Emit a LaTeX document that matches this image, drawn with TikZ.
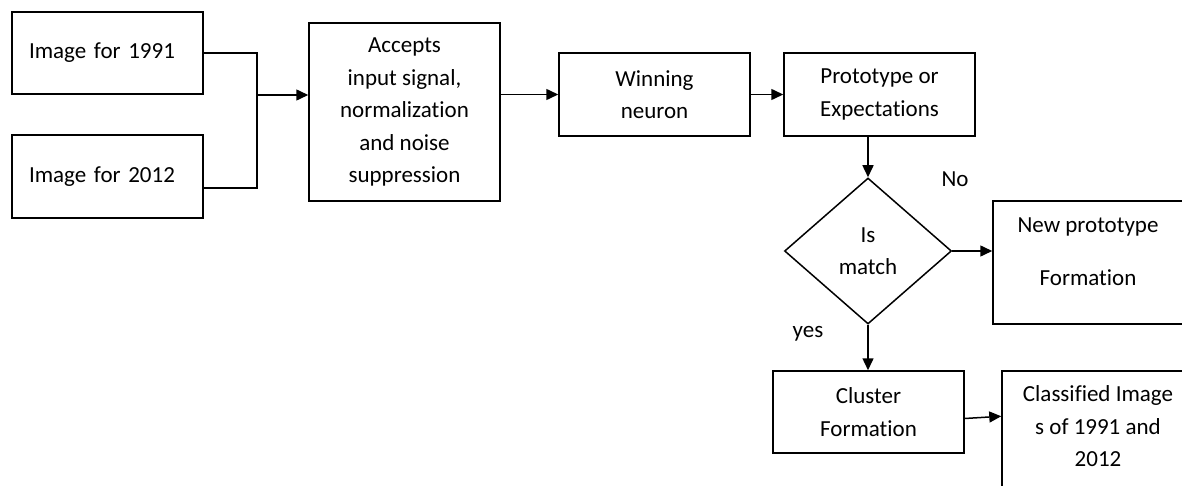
\documentclass[tikz,border=0pt]{standalone}
\usepackage{fontspec}
\setmainfont{Carlito}[Ligatures={NoCommon}]
\usetikzlibrary{arrows.meta,shapes.geometric}
\begin{document}
\begin{tikzpicture}[x=1pt,y=-1pt,
  every node/.style={font=\fontsize{23}{32.5}\selectfont},
  box/.style={draw, line width=1.5pt, inner sep=0pt, align=center, minimum width=191pt},
  txt/.style={inner sep=0pt, align=center},
  conn/.style={line width=1.5pt},
  arr/.style={conn, -{Triangle[length=12pt,width=11pt]}},
]
\useasboundingbox (0,0) rectangle (1182,486);
\clip (0,0) rectangle (1182,486);

\node[box, minimum height=82pt, text width=157pt, align=left, inner xsep=17pt] (b1) at (107.5,53) {Image for 1991};
\node[box, minimum height=83pt, text width=157pt, align=left, inner xsep=17pt] (b2) at (107.5,176.5) {Image for 2012};
\node[box, minimum height=178pt] (b3) at (404.5,112) {Accepts\\input signal,\\normalization\\and noise\\suppression};
\node[box, minimum height=83pt] (b4) at (654.5,94.5) {Winning\\neuron};
\node[box, minimum height=83pt] (b5) at (879.5,94.5) {Prototype or\\Expectations};
\node[draw, diamond, line width=1.5pt, minimum width=167pt, minimum height=146pt, inner sep=0pt, aspect=1.14, align=center] (dia) at (868,251) {Is\\match};
\node[box, minimum height=123pt] (b6) at (1088.5,262.5) {};
\node[txt] (b6t) at (1088,251.5) {New prototype\\[20.5pt]Formation};
\node[txt] (no) at (955,179) {No};
\node[txt] (yes) at (808,334) {yes};
\node[box, minimum height=82pt] (b7) at (868.5,412) {Cluster\\Formation};
\node[box, minimum width=192pt, minimum height=138pt] (b8) at (1098,440) {};
\node[txt] (b8t) at (1098,426.5) {Classified Image\\s of 1991 and\\2012};

\coordinate (j1) at (257,53);
\coordinate (j2) at (257,188);
\coordinate (jm) at (257,95);
\draw[conn] (b1.east) -- (j1) -- (j2) -- (j2 -| b2.east);
\draw[arr] (jm) -- (jm -| b3.west);
\draw[arr] (b3.east |- b4.west) -- (b4.west);
\draw[arr] (b4.east) -- (b5.west);
\draw[arr] (dia.north |- b5.south) -- (dia.north);
\draw[arr] (dia.east) -- (dia.east -| b6.west);
\draw[arr] (dia.south) -- (dia.south |- b7.north);
\draw[arr] ([yshift=-6.5pt]b7.east) -- ([yshift=-46pt]b8.north west);
\end{tikzpicture}
\end{document}
